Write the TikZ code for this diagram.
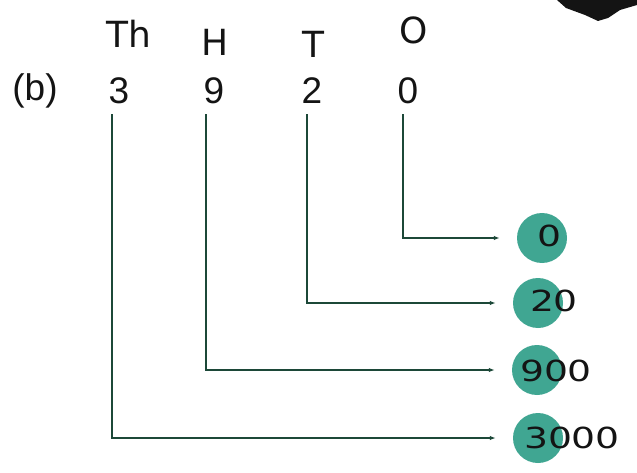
\documentclass[tikz,border=0pt]{standalone}
\usepackage{fontspec}
\setmainfont{Liberation Sans}
\newfontfamily\handfont{DejaVu Sans}
\usetikzlibrary{arrows.meta}
\definecolor{linegreen}{RGB}{28,72,56}
\definecolor{dotteal}{RGB}{64,166,146}
\definecolor{inkblack}{RGB}{20,20,20}
\tikzset{
  digit/.style={inner sep=0pt, font=\fontsize{37}{37}\selectfont, text=inkblack},
  head/.style={inner sep=0pt, font=\handfont\fontsize{36}{36}\selectfont, text=inkblack},
  dot/.style={circle, fill=dotteal, minimum size=50pt, inner sep=0pt},
  val/.style={inner sep=0pt, font=\handfont\fontsize{29}{29}\selectfont, text=inkblack, xscale=1.3, transform shape},
  conn/.style={draw=linegreen, line width=2.3pt, -{Latex[length=6pt,width=4.5pt]}, shorten >=17pt}
}
\begin{document}
\begin{tikzpicture}[x=1pt,y=-1pt]
\useasboundingbox (0,0) rectangle (637,473);
\fill[white] (0,0) rectangle (637,473);
% dark blob at top right
\fill[inkblack] (557,0) -- (566,8) -- (585,15) -- (598,21) -- (608,18) -- (620,10) -- (637,5) -- (637,0) -- cycle;
% printed labels
\node[digit] (b) at (35,91) {(b)};
\node[digit] (d3) at (119,91) {3};
\node[digit] (d9) at (214,91) {9};
\node[digit] (d2) at (312,91) {2};
\node[digit] (d0) at (408,91) {0};
% handwritten headers
\node[head] (hTh) at (129,34) {Th};
\node[head] (hH) at (215,42) {H};
\node[head] (hT) at (313,44) {T};
\node[head] (hO) at (414,30) {O};
% teal dots
\node[dot] (c0) at (542,238) {};
\node[dot] (c20) at (538,303) {};
\node[dot] (c900) at (537,370) {};
\node[dot] (c3000) at (538,438) {};
% values
\node[val] (v0) at (549,236) {0};
\node[val] (v20) at (554,301) {20};
\node[val] (v900) at (556,371) {900};
\node[val] (v3000) at (572,438) {3000};
% connectors
\draw[conn] ([xshift=-5pt,yshift=-10pt]d0.south) |- (c0.west);
\draw[conn] ([xshift=-5pt,yshift=-10pt]d2.south) |- (c20.west);
\draw[conn] ([xshift=-8pt,yshift=-10pt]d9.south) |- (c900.west);
\draw[conn] ([xshift=-7pt,yshift=-10pt]d3.south) |- (c3000.west);
\end{tikzpicture}
\end{document}
